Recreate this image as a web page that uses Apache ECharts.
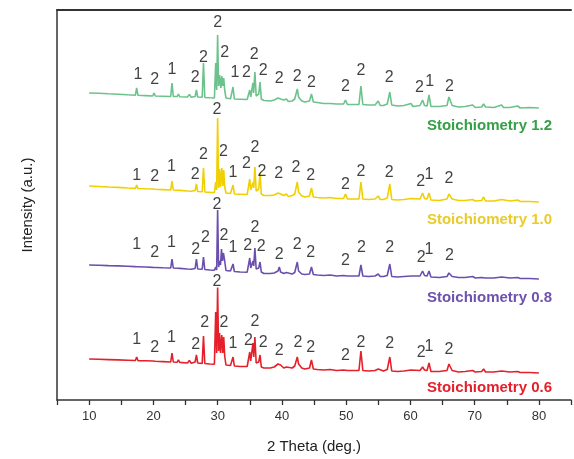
<!DOCTYPE html>
<html>
<head>
<meta charset="utf-8">
<script src="https://cdn.jsdelivr.net/npm/echarts@6/dist/echarts.min.js"></script>
<style>
html, body { margin: 0; padding: 0; background: #fff; }
#xrd { width: 574px; height: 459px; }
</style>
</head>
<body>
<div id="xrd"></div>
<script>
// 2 theta (deg.) / relative intensity
var green = [[10,15],[11.5,14.8],[13,14.2],[14.5,13.8],[16,13.2],[17.2,12.8],[17.4,20],[17.6,12.7],[18.8,12.4],[19.9,12],[20.1,15],[20.3,12],[21.5,11.8],[22.7,11.5],[22.9,25],[23.1,11.5],[23.7,11.5],[23.9,14],[24.1,11.2],[25.3,11],[25.6,13.5],[25.9,10.8],[26.5,11.5],[26.7,18],[26.9,11],[27.6,10.8],[27.8,45],[28.0,10.5],[28.8,10.2],[29.5,10],[29.7,45],[29.85,18],[30.0,73],[30.15,22],[30.3,33],[30.5,20],[30.65,32],[30.8,22],[30.95,30],[31.1,18],[31.3,10],[32.0,9.2],[32.2,9.2],[32.4,21],[32.6,9],[33.5,8.8],[34.6,8.5],[34.8,10],[35.0,18],[35.15,11],[35.35,12],[35.5,25],[35.6,15],[35.8,36],[36.0,12],[36.2,11],[36.4,14],[36.6,26],[36.8,9],[37.2,7.5],[38.2,7],[38.8,8],[39.1,7.5],[39.4,10],[39.6,12],[39.8,9],[40.0,10.5],[40.3,8],[40.7,9],[41.0,6.5],[41.6,7],[42.0,9],[42.2,11],[42.4,19],[42.6,11],[42.8,10],[43.1,7],[43.6,6],[44.3,7],[44.6,14],[44.9,6],[45.5,5.5],[46.5,4.5],[47.5,4.5],[48.5,4],[49.6,4],[49.9,8],[50.2,3.5],[51,3.5],[52.0,3.5],[52.3,22],[52.6,3.5],[53.5,3],[54.5,3],[55.0,7],[55.3,2.5],[55.8,2.5],[56.4,4],[56.8,16],[57.1,3],[58,2],[59,2.5],[60.1,4.5],[60.4,1.5],[61.5,2.5],[61.9,8],[62.2,2.5],[62.6,2],[62.9,13],[63.2,1.5],[64.5,1.5],[65.7,2.5],[66.0,11],[66.5,2.5],[67.5,1],[68.5,1.5],[69.7,3],[70.1,0.5],[71.1,1],[71.4,4],[71.7,1],[73,0.5],[74.2,3],[74.5,0.5],[75.5,0.5],[76.7,2],[77.1,0],[78.5,0.5],[80,0]];

var yellow = [[10,16],[11.5,15.5],[13,15],[14.5,14.6],[16,14],[17.2,13.6],[17.4,17],[17.6,13.5],[18.8,13.2],[19.9,13],[20.1,14.5],[20.3,12.8],[21.5,12.4],[22.7,12],[22.9,21],[23.1,12],[23.7,11.8],[23.9,13.5],[24.1,11.6],[25.3,11],[25.6,13],[25.9,10.8],[26.5,11.5],[26.7,18],[26.9,10.5],[27.6,10.2],[27.8,34],[28.0,10],[28.8,9.6],[29.5,9.4],[29.7,20],[29.85,12],[30.0,84],[30.15,14],[30.3,33],[30.45,15],[30.65,34],[30.8,16],[30.95,32],[31.1,15],[31.3,9],[32.0,8.5],[32.2,8.5],[32.4,17],[32.6,8],[33.5,7.8],[34.6,7.5],[34.8,9],[35.0,23],[35.15,12],[35.35,13],[35.5,19.5],[35.62,14],[35.8,35],[36.0,11],[36.2,10],[36.4,13],[36.6,29],[36.8,8],[37.2,6.5],[38.2,6.5],[38.8,7],[39.1,6.5],[39.4,9],[39.6,11],[39.8,8],[40.0,9],[40.3,6.5],[40.7,8],[41.0,5.5],[41.6,6.5],[42.0,8],[42.2,10],[42.4,20],[42.6,10],[42.8,9],[43.1,6],[43.6,5],[44.3,6],[44.6,14],[44.9,5],[45.5,4.5],[46.5,4],[47.5,4.5],[48.5,3.5],[49.6,3.5],[49.9,8],[50.2,3],[51,3],[52.0,3],[52.3,20],[52.6,3],[53.5,2.5],[54.5,3],[55.0,6],[55.3,2.5],[55.8,2.5],[56.4,4],[56.8,18],[57.1,2.5],[58,2],[59,2.5],[60.1,3.5],[60.4,2],[61.5,3],[61.9,9],[62.2,3.5],[62.6,3],[62.9,9],[63.2,2],[64.5,1.5],[65.7,3],[66.0,8],[66.5,3],[67.5,1.5],[68.5,1.5],[69.7,2.5],[70.1,1],[71.1,1.5],[71.4,5],[71.7,1],[73,1],[74.2,2.5],[74.5,0.5],[75.5,1],[76.7,2],[77.1,0.5],[78.5,0.5],[80,0]];

var purple = [[10,14],[11.5,13.8],[13,13.4],[14.5,13.1],[16,12.8],[17.2,12.4],[17.4,13.8],[17.6,12.3],[18.8,12],[19.9,11.6],[20.1,12.8],[20.3,11.5],[21.5,11.2],[22.7,11],[22.9,20],[23.1,11],[23.7,10.8],[23.9,12.5],[24.1,10.6],[25.3,10],[25.6,12],[25.9,9.8],[26.5,10.5],[26.7,20],[26.9,10],[27.6,9.8],[27.8,22],[28.0,9.5],[28.8,9],[29.5,8.8],[29.7,12],[29.85,9],[30.0,69],[30.15,12],[30.3,18],[30.45,14],[30.6,30],[30.75,18],[30.9,26],[31.1,18],[31.3,8.5],[32.0,8],[32.2,8],[32.4,15],[32.6,7.5],[33.5,7],[34.6,6.8],[34.8,8],[35.0,21],[35.15,11],[35.35,12],[35.5,18],[35.62,13],[35.8,31],[36.0,10],[36.2,9],[36.4,11],[36.6,17],[36.8,7],[37.2,5.5],[38.2,5.5],[38.8,6],[39.1,5.5],[39.4,8],[39.6,12],[39.8,7],[40.0,8],[40.3,5.5],[40.7,6.5],[41.0,4.5],[41.6,5],[42.0,6.5],[42.2,8],[42.4,17],[42.6,8],[42.8,7],[43.1,5],[43.6,4.5],[44.3,5],[44.6,12],[44.9,4.5],[45.5,4],[46.5,3.5],[47.5,4],[48.5,3],[49.6,3.5],[49.9,5.5],[50.2,3],[51,3],[52.0,3],[52.3,14],[52.6,3],[53.5,2.5],[54.5,3],[55.0,5],[55.3,2.5],[55.8,2.5],[56.4,3.5],[56.8,15],[57.1,2.5],[58,2],[59,2.5],[60.1,3],[60.4,2],[61.5,3],[61.9,8],[62.2,3.5],[62.6,3],[62.9,8],[63.2,2],[64.5,1.5],[65.7,2.5],[66.0,6],[66.5,2.5],[67.5,1.5],[68.5,1.5],[69.7,2.5],[70.1,1],[71.1,1.5],[71.4,3],[71.7,1],[73,1],[74.2,2],[74.5,0.5],[75.5,1],[76.7,1.5],[77.1,0.5],[78.5,0.5],[80,0]];

var red = [[10,14],[11.5,13.7],[13,13.4],[14.5,13.1],[16,12.8],[17.2,12.5],[17.4,16],[17.6,12.4],[18.8,12.2],[19.9,12],[20.1,13],[20.3,11.8],[21.5,11.4],[22.7,11],[22.9,20],[23.1,11],[23.7,10.8],[23.9,13],[24.1,10.6],[25.3,10],[25.6,12.5],[25.9,9.8],[26.5,11],[26.7,18],[26.9,10],[27.6,9.6],[27.8,37],[28.0,9.5],[28.8,9],[29.5,8.8],[29.7,61],[29.85,20],[30.0,85.5],[30.15,22],[30.3,40],[30.45,20],[30.65,38],[30.8,20],[30.95,36],[31.1,17],[31.3,8],[32.0,7.5],[32.2,7.5],[32.4,16],[32.6,7],[33.5,6.5],[34.6,6.5],[34.8,8],[35.0,21],[35.15,12],[35.35,14],[35.5,30],[35.62,16],[35.8,36],[36.0,10],[36.2,9],[36.4,11],[36.6,18],[36.8,6],[37.2,5],[38.2,5],[38.8,6],[39.1,5.5],[39.4,9],[39.6,10],[39.8,8],[40.0,8.5],[40.3,5],[40.7,6],[41.0,4],[41.6,5],[42.0,7],[42.2,9],[42.4,16],[42.6,9],[42.8,8],[43.1,5],[43.6,4],[44.3,5],[44.6,13],[44.9,4],[45.5,3.5],[46.5,3],[47.5,3.5],[48.5,2.5],[49.6,3],[49.9,5],[50.2,2.5],[51,2.5],[52.0,2.5],[52.3,22],[52.6,2.5],[53.5,2],[54.5,2.5],[55.0,4],[55.3,2],[55.8,2],[56.4,3.5],[56.8,16],[57.1,2],[58,1.5],[59,2],[60.1,3],[60.4,1.5],[61.5,2.5],[61.9,6],[62.2,3],[62.6,2.5],[62.9,10],[63.2,1.5],[64.5,1.5],[65.7,2.5],[66.0,9],[66.5,2.5],[67.5,1],[68.5,1.5],[69.7,2.5],[70.1,1],[71.1,1.5],[71.4,4],[71.7,1],[73,1],[74.2,2],[74.5,0.5],[75.5,1],[76.7,1.5],[77.1,0.5],[78.5,0.5],[80,0]];

// vertical shift of each pattern
var offsets = [292, 198, 121, 27];
var names = ['Stoichiometry 1.2', 'Stoichiometry 1.0', 'Stoichiometry 0.8', 'Stoichiometry 0.6'];

// phase marks: [2 theta, height, phase]
var greenPeaks = [[17.6,33,'1'],[20.2,28,'2'],[22.9,38,'1'],[26.5,30,'2'],[27.8,50,'2'],[30.0,85,'2'],[31.1,55,'2'],[32.7,35,'1'],[34.5,35,'2'],[35.7,53,'2'],[37.1,37,'2'],[39.6,29,'2'],[42.4,31,'2'],[44.6,25,'2'],[49.9,21,'2'],[52.3,37,'2'],[56.7,30,'2'],[61.4,20,'2'],[63.0,26,'1'],[66.1,21,'2']];
var yellowPeaks = [[17.4,26,'1'],[20.2,25,'2'],[22.8,35,'1'],[26.5,27,'2'],[27.8,47,'2'],[29.9,92,'2'],[30.9,50,'2'],[32.4,29,'1'],[34.5,38,'2'],[35.8,54,'2'],[36.9,30,'2'],[39.5,28,'2'],[42.2,34,'2'],[44.5,26,'2'],[49.9,17,'2'],[52.3,30,'2'],[56.7,29,'2'],[61.6,20,'2'],[62.9,27,'1'],[66.0,23,'2']];
var purplePeaks = [[17.4,34,'1'],[20.2,26,'2'],[22.8,36,'1'],[26.6,29,'2'],[28.1,41,'2'],[29.9,74,'2'],[31.0,43,'2'],[32.4,31,'1'],[34.7,33,'2'],[35.8,51,'2'],[36.8,32,'2'],[39.6,24,'2'],[42.4,34,'2'],[44.5,26,'2'],[49.9,18,'2'],[52.4,31,'2'],[56.8,31,'2'],[61.7,21,'2'],[62.9,29,'1'],[66.1,23,'2']];
var redPeaks = [[17.4,33,'1'],[20.2,25,'2'],[22.8,35,'1'],[26.6,28,'2'],[28.0,50,'2'],[29.9,91,'2'],[31.0,50,'2'],[32.4,29,'1'],[34.8,32,'2'],[35.8,51,'2'],[37.1,30,'2'],[39.6,22,'2'],[42.5,30,'2'],[44.5,25,'2'],[49.9,17,'2'],[52.3,30,'2'],[56.8,29,'2'],[61.7,20,'2'],[62.9,26,'1'],[66.0,23,'2']];

var patterns = [green, yellow, purple, red];
var peakSets = [greenPeaks, yellowPeaks, purplePeaks, redPeaks];
var lineColors = ['#6cc28c', '#f0d000', '#6a50ac', '#e5202a'];
var textColors = ['#35a046', '#e9cb2c', '#6e52ad', '#e5202a'];
var textTops = [118, 212, 290, 380];

var xrdDom = document.getElementById("xrd");
var myXrdChart = echarts.init(xrdDom);
var xrdOption = null;

function shift(arr, off) {
    return arr.map(function (p) { return [p[0], p[1] + off]; });
}
function shiftLabels(arr, off) {
    return arr.map(function (p) { return [p[0], p[1] + off, p[2]]; });
}

var series = [];
var texts = [];
for (var i = 0; i < patterns.length; i++) {
    series.push({
        name: names[i],
        type: 'line',
        symbol: 'none',
        data: shift(patterns[i], offsets[i]),
        lineStyle: { color: lineColors[i], width: 1.6 },
        z: 2
    });
    series.push({
        type: 'scatter',
        symbolSize: 1,
        silent: true,
        itemStyle: { color: 'rgba(0,0,0,0)' },
        data: shiftLabels(peakSets[i], offsets[i]),
        label: {
            show: true,
            position: 'inside',
            formatter: function (p) { return p.data[2]; },
            color: '#111',
            fontSize: 16,
            fontFamily: 'Liberation Sans, Arial, sans-serif'
        },
        z: 3
    });
    texts.push({
        type: 'text',
        right: 22,
        top: textTops[i],
        style: {
            text: names[i],
            fill: textColors[i],
            font: 'bold 15px "Liberation Sans", Arial, sans-serif'
        }
    });
}

xrdOption = {
    animation: false,
    backgroundColor: '#fff',
    grid: { left: 57, right: -12, top: 10, bottom: 59 },
    xAxis: [{
        type: 'value',
        min: 5,
        max: 85,
        interval: 5,
        name: '2 Theta (deg.)',
        nameLocation: 'middle',
        nameGap: 39,
        nameTextStyle: { fontSize: 15, color: '#222', fontFamily: 'Liberation Sans, Arial, sans-serif' },
        axisLine: { lineStyle: { color: '#333', width: 1.5 } },
        axisTick: { show: true, inside: false, length: 5, lineStyle: { color: '#333', width: 1.3 } },
        axisLabel: {
            margin: 10,
            fontSize: 13,
            color: '#333',
            fontFamily: 'Liberation Sans, Arial, sans-serif',
            formatter: function (v) { return (v % 10 === 0 && v <= 80) ? v : ''; }
        },
        splitLine: { show: false }
    }, {
        type: 'value',
        position: 'top',
        min: 5,
        max: 85,
        axisLine: { show: true, onZero: false, lineStyle: { color: '#333', width: 2 } },
        axisTick: { show: false },
        axisLabel: { show: false },
        splitLine: { show: false }
    }],
    yAxis: {
        type: 'value',
        min: 0,
        max: 390,
        name: 'Intensity (a.u.)',
        nameLocation: 'middle',
        nameGap: 22,
        nameTextStyle: { fontSize: 15, color: '#222', fontFamily: 'Liberation Sans, Arial, sans-serif' },
        axisLine: { show: true, lineStyle: { color: '#333', width: 1.5 } },
        axisTick: { show: false },
        axisLabel: { show: false },
        splitLine: { show: false }
    },
    graphic: texts,
    series: series
};

if (xrdOption && typeof xrdOption === "object") {
    myXrdChart.setOption(xrdOption, true);
}
</script>
</body>
</html>
